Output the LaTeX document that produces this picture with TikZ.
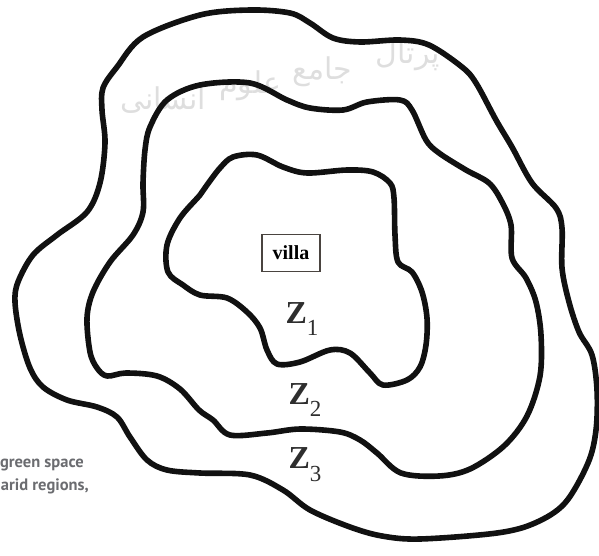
\documentclass[tikz,border=0pt]{standalone}
\usepackage{fontspec}
\setmainfont{Liberation Serif}
\newfontfamily\notesfont{PT Sans}
\newfontfamily\arabicfont[Script=Arabic]{DejaVu Sans}
\TeXXeTstate=1
\usepackage{tikz}
\definecolor{Ink}{HTML}{111111}
\definecolor{ZoneGray}{HTML}{2E2E2E}
\definecolor{BoxGray}{HTML}{4A4440}
\definecolor{NoteGray}{HTML}{6B6C70}
\definecolor{MarkGray}{HTML}{DEDEDE}

\begin{document}
\begin{tikzpicture}[
  x=1pt, y=-1pt,
  boundary/.style={draw=Ink, line width=5.6pt, line join=round},
  zone/.style={text=ZoneGray, inner sep=0pt, font=\fontsize{32}{32}\selectfont\bfseries},
  house/.style={draw=BoxGray, line width=1.1pt, minimum width=58pt, minimum height=37pt, inner sep=0pt, font=\fontsize{20}{20}\selectfont\bfseries},
  note/.style={text=NoteGray, anchor=east, inner sep=0pt, font=\notesfont\bfseries\fontsize{16.5}{16.5}\selectfont},
  watermark/.style={text=MarkGray, inner sep=0pt, font=\arabicfont\fontsize{30}{30}\selectfont}
]
\useasboundingbox (0,0) rectangle (599,556);
% watermark
\node[watermark] (mark1) at (163,100) {\beginR انسانی\endR};
\node[watermark] (mark2) at (250,86) {\beginR علوم\endR};
\node[watermark] (mark3) at (322,72) {\beginR جامع\endR};
\node[watermark] (mark4) at (408,56) {\beginR پرتال\endR};
% zone boundaries
\draw[boundary] plot[smooth cycle, tension=0.55] coordinates {
  (100,183) (105,143) (102,110) (103,88) (117,67) (143,37) (200,15) (250,10)
  (290,13) (310,23) (333,38) (360,42) (400,40) (429,45) (462,67) (476,83)
  (496,120) (512,147) (532,183) (556,208) (562,228) (562,268) (569,302)
  (579,332) (592,355) (597,390) (596,430) (588,463) (565,503) (535,523)
  (497,533) (420,539) (382,536) (350,527) (310,510) (283,490) (250,475)
  (200,473) (167,470) (147,460) (130,437) (117,417) (97,407) (67,400)
  (43,387) (30,368) (20,335) (15,302) (18,282) (33,255) (57,235) (87,212)};
\draw[boundary] plot[smooth cycle, tension=0.55] coordinates {
  (143,183) (145,150) (150,127) (167,100) (200,85) (250,83) (287,100)
  (310,108) (343,110) (367,102) (400,100) (412,110) (426,140) (439,153)
  (466,170) (489,183) (502,202) (511,225) (512,258) (526,278) (536,302)
  (541,335) (540,376) (527,416) (504,446) (470,469) (439,476) (401,473)
  (377,453) (360,440) (340,432) (300,429) (267,433) (230,435) (213,420)
  (199,410) (180,389) (157,376) (126,373) (107,376) (97,368) (90,352)
  (87,318) (93,292) (110,262) (133,235) (143,212)};
\draw[boundary] plot[smooth cycle, tension=0.55] coordinates {
  (200,195) (207,185) (220,168) (233,157) (257,155) (283,167) (307,173)
  (347,170) (373,172) (390,183) (394,198) (395,235) (398,262) (412,272)
  (422,292) (427,318) (426,345) (420,367) (407,380) (383,385) (370,373)
  (350,353) (330,350) (300,362) (277,364) (267,350) (260,328) (247,312)
  (227,298) (200,295) (183,285) (168,272) (167,245) (180,218)};
% labels
\node[house] (villa) at (291,253) {villa};
\node[zone] (z1) at (302,319) {Z\raisebox{-0.4em}{\mdseries\fontsize{23}{23}\selectfont 1}};
\node[zone] (z2) at (305,400) {Z\raisebox{-0.4em}{\mdseries\fontsize{23}{23}\selectfont 2}};
\node[zone] (z3) at (305,465) {Z\raisebox{-0.4em}{\mdseries\fontsize{23}{23}\selectfont 3}};
\node[note] (green) at (84,465) {green space};
\node[note] (arid) at (89,486) {arid regions,};
\end{tikzpicture}
\end{document}
